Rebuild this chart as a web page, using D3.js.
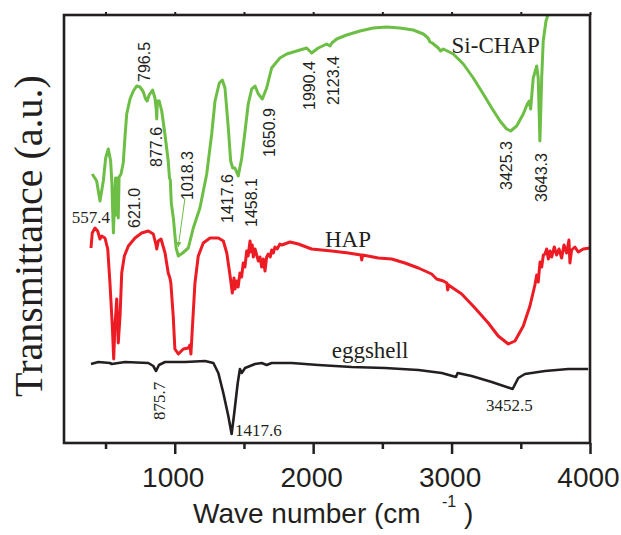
<!DOCTYPE html>
<html>
<head>
<meta charset="utf-8">
<script src="https://cdn.jsdelivr.net/npm/d3@7"></script>
<style>
  html, body { margin: 0; padding: 0; background: #fff; }
  svg { display: block; }
  .sans { font-family: "Liberation Sans", Arial, sans-serif; }
  .serif { font-family: "Liberation Serif", "Times New Roman", serif; }
</style>
</head>
<body>
<svg id="chart" width="621" height="535"></svg>
<script>
// FTIR spectra, [wave number (cm-1), transmittance (a.u.)]
var siChap = [
  [404, 26.9], [436, 26.2], [460, 24.2], [484, 26.2], [501, 28.5], [520, 29.4],
  [537, 28.2], [546, 26.0], [551, 23.5], [557, 21.0], [566, 24.5], [572, 26.5],
  [578, 22.8], [584, 26.5], [592, 22.5], [598, 26.6], [612, 26.9], [628, 28.0],
  [640, 30.5], [653, 32.9], [677, 34.4], [701, 35.2], [725, 35.7], [749, 35.6],
  [770, 35.2], [790, 34.4], [801, 34.2], [815, 34.8], [840, 35.3], [857, 34.5],
  [866, 33.4], [870, 32.4], [874, 34.2], [888, 34.2], [906, 33.2], [929, 30.9],
  [953, 28.2], [962, 26.5], [968, 26.3], [975, 24.0], [990, 22.5], [1010, 19.5],
  [1026, 18.7], [1057, 19.0], [1098, 19.5], [1134, 21.5], [1182, 23.5], [1231, 26.9],
  [1267, 30.9], [1291, 34.2], [1322, 36.0], [1344, 36.3], [1363, 35.5], [1387, 31.5],
  [1404, 28.2], [1419, 27.5], [1435, 27.5], [1459, 26.7], [1484, 28.5], [1508, 31.2],
  [1531, 33.9], [1556, 35.4], [1580, 35.7], [1604, 34.9], [1633, 34.4], [1664, 35.5],
  [1700, 37.5], [1760, 38.5], [1809, 38.9], [1881, 39.2], [1953, 39.5], [1989, 39.0],
  [2037, 39.5], [2098, 39.9], [2122, 39.7], [2135, 40.0], [2170, 40.4], [2242, 40.8],
  [2338, 41.2], [2434, 41.5], [2531, 41.6], [2627, 41.5], [2723, 41.3], [2796, 40.9],
  [2830, 40.5], [2844, 40.1], [2860, 40.0], [2904, 39.5], [2921, 39.2], [2940, 39.4],
  [3012, 38.9], [3085, 37.9], [3157, 36.5], [3229, 34.9], [3290, 33.5], [3350, 32.2],
  [3398, 31.4], [3427, 31.2], [3470, 31.7], [3518, 32.9], [3547, 33.9], [3561, 34.2],
  [3571, 33.4], [3590, 36.5], [3615, 37.7], [3626, 36.5], [3638, 30.2], [3651, 36.5],
  [3662, 40.2], [3682, 42.2], [3696, 42.8]
]

var hap = [
  [395, 19.5], [404, 21.0], [424, 21.5], [443, 21.2], [460, 20.4], [472, 20.7],
  [496, 20.5], [516, 19.4], [532, 16.0], [549, 11.7], [559, 8.4], [568, 11.7],
  [581, 14.4], [592, 10.0], [605, 12.7], [617, 17.0], [636, 18.7], [665, 19.7],
  [713, 20.5], [761, 21.0], [809, 21.2], [845, 20.9], [865, 19.8], [870, 19.4],
  [881, 20.2], [901, 20.4], [930, 19.0], [953, 17.0], [965, 16.5], [972, 16.0],
  [989, 12.7], [1001, 9.4], [1026, 8.9], [1062, 9.4], [1098, 9.5], [1110, 9.8],
  [1117, 8.9], [1127, 11.4], [1146, 16.0], [1170, 18.7], [1206, 20.0], [1255, 20.5],
  [1315, 20.5], [1351, 20.2], [1376, 19.0], [1400, 16.7], [1416, 15.0], [1428, 16.5],
  [1436, 15.4], [1448, 16.2], [1458, 15.6], [1471, 17.0], [1483, 16.6], [1495, 18.0],
  [1507, 17.6], [1520, 19.2], [1530, 18.7], [1544, 20.2], [1552, 19.1], [1560, 19.8],
  [1568, 18.6], [1580, 19.4], [1592, 18.8], [1604, 18.2], [1616, 18.6], [1628, 17.6],
  [1640, 18.4], [1652, 17.2], [1664, 18.6], [1676, 18.9], [1690, 18.6], [1700, 19.3],
  [1712, 19.0], [1724, 19.6], [1740, 19.4], [1760, 19.9], [1773, 19.8], [1833, 20.1],
  [1893, 19.9], [1989, 19.4], [2134, 19.2], [2254, 19.0], [2345, 18.8], [2351, 18.3],
  [2358, 18.8], [2471, 18.5], [2567, 18.4], [2663, 18.0], [2760, 17.5], [2856, 16.9],
  [2892, 16.4], [2940, 16.2], [2966, 16.0], [2972, 15.3], [2980, 15.8], [2988, 15.7],
  [3073, 14.9], [3169, 13.5], [3265, 12.0], [3337, 10.7], [3410, 9.9], [3458, 10.2],
  [3518, 11.7], [3566, 13.7], [3602, 15.8], [3615, 16.8], [3626, 16.1], [3639, 18.1],
  [3651, 17.6], [3663, 18.8], [3675, 18.9], [3687, 19.4], [3699, 18.4], [3711, 19.2],
  [3723, 18.6], [3742, 19.6], [3759, 18.8], [3776, 19.4], [3795, 18.5], [3812, 19.8],
  [3831, 19.0], [3848, 20.3], [3855, 18.0], [3867, 19.3], [3891, 19.6], [3915, 19.1],
  [3951, 19.4], [4000, 19.5]
]

var eggshell = [
  [395, 7.9], [448, 8.1], [532, 8.0], [545, 7.9], [641, 8.1], [809, 8.0],
  [845, 7.7], [865, 7.2], [886, 7.8], [930, 8.1], [1074, 8.1], [1219, 8.2],
  [1279, 8.0], [1315, 7.0], [1351, 5.0], [1387, 2.7], [1411, 0.9], [1430, 3.0],
  [1455, 6.0], [1471, 7.4], [1484, 7.0], [1508, 7.5], [1580, 7.9], [1628, 8.0],
  [1664, 7.8], [1700, 8.0], [1845, 8.0], [2037, 7.8], [2278, 7.6], [2519, 7.5],
  [2760, 7.3], [2929, 7.0], [3032, 6.6], [3044, 7.0], [3145, 6.7], [3290, 6.1],
  [3441, 5.4], [3482, 6.5], [3530, 6.9], [3675, 7.2], [3843, 7.4], [3987, 7.4]
]

var majorTicks = [1000, 2000, 3000, 4000]
var minorTicks = [500, 1500, 2500, 3500]

// peak labels: text, anchor wave number, anchor transmittance
var greenPeaks = [
  ['796.5', 821, 36.1], ['877.6', 906, 27.6], ['1018.3', 1134, 24.3],
  ['621.0', 749, 21.5], ['1417.6', 1423, 22.0], ['1458.1', 1592, 21.6],
  ['1650.9', 1724, 28.6], ['1990.4', 2013, 33.3], ['2123.4', 2187, 33.8],
  ['3425.3', 3434, 25.3], ['3643.3', 3687, 24.1]
]
var flatLabels = [
  ['557.4', 256, 22.0], ['1417.6', 1435, 0.75], ['3452.5', 3249, 3.2]
]
var sampleNames = [
  ['Si-CHAP', 3000, 39.05], ['HAP', 2085, 19.6], ['eggshell', 2134, 8.55]
]

;(function () {
  var svg = d3.select('#chart')
  var ink = '#231f20'

  var x = d3.scaleLinear().domain([200, 4000]).range([64, 590])
  var y = d3.scaleLinear().domain([0, 42.8]).range([443, 15])

  var line = d3.line()
      .x(d => x(d[0]))
      .y(d => y(d[1]))
      .curve(d3.curveLinear)

  /*
      --------------------------------------
      Spectra
  */
  var series = [
    {data: siChap, color: '#6dbe45', w: 3},
    {data: hap, color: '#ed1c24', w: 3},
    {data: eggshell, color: ink, w: 2.6}
  ]

  svg.append('g').selectAll('path')
      .data(series)
      .enter().append('path')
      .attr('d', d => line(d.data))
      .attr('fill', 'none')
      .attr('stroke', d => d.color)
      .attr('stroke-width', d => d.w)
      .attr('stroke-linejoin', 'round')

  /*
      --------------------------------------
      Frame and axes
  */
  var bottom = svg.append('g').attr('transform', `translate(0,${y.range()[0]})`)
  bottom.call(d3.axisBottom(x).tickValues(majorTicks).tickFormat(d3.format('d'))
      .tickSize(11).tickPadding(13).tickSizeOuter(0))
  bottom.append('g')
      .call(d3.axisBottom(x).tickValues(minorTicks).tickSize(6).tickFormat('').tickSizeOuter(0))
  bottom.selectAll('.domain').remove()
  bottom.selectAll('line').attr('stroke', ink).attr('stroke-width', 2.5)
  bottom.selectAll('text')
      .attr('class', 'sans')
      .attr('font-size', 28)
      .attr('fill', ink)
      .attr('dx', -2)

  var top = svg.append('g').attr('transform', `translate(0,${y.range()[1]})`)
  top.call(d3.axisTop(x).tickValues(majorTicks.concat(minorTicks)).tickSize(3).tickFormat('').tickSizeOuter(0))
  top.selectAll('.domain').remove()
  top.selectAll('line').attr('stroke', ink).attr('stroke-width', 2)

  svg.append('rect')
      .attr('x', x.range()[0])
      .attr('y', y.range()[1])
      .attr('width', x.range()[1] - x.range()[0])
      .attr('height', y.range()[0] - y.range()[1])
      .attr('fill', 'none')
      .attr('stroke', ink)
      .attr('stroke-width', 2.6)

  /*
      --------------------------------------
      Axis titles
  */
  var xt = svg.append('text')
      .attr('class', 'sans')
      .attr('font-size', 28)
      .attr('fill', ink)
      .attr('y', 523)
  xt.append('tspan').attr('x', 193).text('Wave number (cm')
  xt.append('tspan').attr('x', 442).attr('y', 507).attr('font-size', 16).text('-1')
  xt.append('tspan').attr('x', 464).attr('y', 523).text(')')

  svg.append('text')
      .attr('class', 'serif')
      .attr('font-size', 40)
      .attr('fill', ink)
      .attr('text-anchor', 'middle')
      .attr('transform', 'translate(42,236) rotate(-90)')
      .text('Transmittance (a.u.)')

  /*
      --------------------------------------
      Peak annotations
  */
  svg.append('g').selectAll('text')
      .data(greenPeaks)
      .enter().append('text')
      .attr('class', 'sans')
      .attr('font-size', 16)
      .attr('fill', ink)
      .attr('transform', d => `translate(${x(d[1])},${y(d[2])}) rotate(-90)`)
      .text(d => d[0])

  svg.append('text')
      .attr('class', 'serif')
      .attr('font-size', 17)
      .attr('fill', ink)
      .attr('transform', `translate(${x(930)},${y(2.3)}) rotate(-90)`)
      .text('875.7')

  svg.append('g').selectAll('text')
      .data(flatLabels)
      .enter().append('text')
      .attr('class', 'serif')
      .attr('font-size', 17)
      .attr('fill', ink)
      .attr('x', d => x(d[1]))
      .attr('y', d => y(d[2]))
      .text(d => d[0])

  svg.append('g').selectAll('text')
      .data(sampleNames)
      .enter().append('text')
      .attr('class', 'serif')
      .attr('font-size', 23)
      .attr('fill', ink)
      .attr('x', d => x(d[1]))
      .attr('y', d => y(d[2]))
      .text(d => d[0])

  // pointer from 1018.3 label down to the band
  svg.append('defs').append('marker')
      .attr('id', 'head')
      .attr('viewBox', '0 0 10 10')
      .attr('refX', 10).attr('refY', 5)
      .attr('markerWidth', 5).attr('markerHeight', 5)
      .attr('orient', 'auto')
      .append('path')
      .attr('d', 'M0,0L10,5L0,10z')
      .attr('fill', '#6dbe45')

  svg.append('line')
      .attr('x1', x(1074)).attr('y1', y(24.5))
      .attr('x2', x(1025)).attr('y2', y(19.6))
      .attr('stroke', '#6dbe45')
      .attr('stroke-width', 1)
      .attr('marker-end', 'url(#head)')
})()
</script>
</body>
</html>
